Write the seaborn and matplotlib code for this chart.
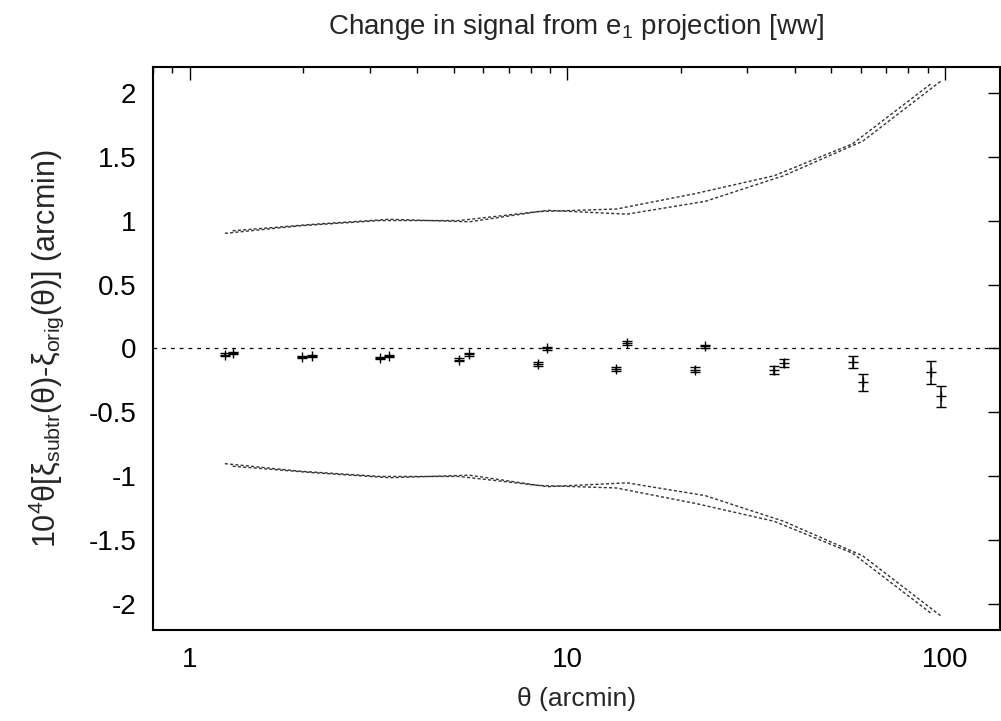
import numpy as np
import pandas as pd
import matplotlib
matplotlib.use("Agg")
import matplotlib.pyplot as plt
import seaborn as sns
from matplotlib.ticker import FixedLocator, NullFormatter, FuncFormatter

# Measured signal change, two estimators at slightly offset angular bins
theta_a = [1.24, 1.98, 3.20, 5.18, 8.37, 13.5, 21.8, 35.3, 57.0, 92.0]
sig_a = [-0.047, -0.068, -0.073, -0.089, -0.120, -0.159, -0.167, -0.167, -0.107, -0.185]
err_a = [0.010, 0.010, 0.010, 0.012, 0.014, 0.018, 0.020, 0.033, 0.046, 0.091]

theta_b = [1.30, 2.11, 3.38, 5.51, 8.86, 14.4, 23.2, 37.4, 60.6, 97.6]
sig_b = [-0.037, -0.055, -0.055, -0.045, 0.000, 0.045, 0.016, -0.112, -0.264, -0.373]
err_b = [0.008, 0.008, 0.008, 0.010, 0.012, 0.014, 0.015, 0.030, 0.065, 0.081]

# Statistical envelope (+/-) for each estimator
env_a = [0.90, 0.96, 1.00, 1.00, 1.07, 1.09, 1.21, 1.35, 1.60, 2.07]
env_b = [0.92, 0.97, 1.01, 0.99, 1.08, 1.05, 1.15, 1.35, 1.62, 2.09]

y_ticks = [-2, -1.5, -1, -0.5, 0, 0.5, 1, 1.5, 2]
x_ticks = [1, 10, 100]

sns.set_theme(style="white")
plt.rcParams["font.family"] = ["Liberation Sans", "DejaVu Sans"]
plt.rcParams["mathtext.fontset"] = "custom"
plt.rcParams["mathtext.rm"] = "Liberation Sans"
plt.rcParams["mathtext.it"] = "Liberation Sans"
plt.rcParams["axes.unicode_minus"] = False

fig = plt.figure(figsize=(10.01, 7.21), dpi=100)
ax = fig.add_axes([153 / 1001, 1 - 630 / 721, (1000 - 153) / 1001, (630 - 67) / 721])

env = pd.concat([
    pd.DataFrame({"theta": theta_a, "val": env_a, "curve": "a+"}),
    pd.DataFrame({"theta": theta_b, "val": env_b, "curve": "b+"}),
    pd.DataFrame({"theta": theta_a, "val": [-v for v in env_a], "curve": "a-"}),
    pd.DataFrame({"theta": theta_b, "val": [-v for v in env_b], "curve": "b-"}),
])
sns.lineplot(data=env, x="theta", y="val", units="curve", estimator=None,
             sort=False, color="#333333", lw=1.0, dashes=False,
             linestyle=(0, (2.2, 1.6)), ax=ax, legend=False)

ax.axhline(0, color="black", lw=0.9, linestyle=(0, (3, 4)))

for th, s, e in [(theta_a, sig_a, err_a), (theta_b, sig_b, err_b)]:
    ax.errorbar(th, s, yerr=e, fmt="+", color="black", ms=7, mew=1.0,
                elinewidth=1.1, capsize=3.5, capthick=1.1)

ax.set_xscale("log")
ax.set_xlim(0.8, 140)
ax.set_ylim(-2.2, 2.2)

ax.xaxis.set_major_locator(FixedLocator(x_ticks))
ax.xaxis.set_minor_locator(FixedLocator(
    [m * 10 ** d for d in (-1, 0, 1, 2) for m in range(2, 10)]))
ax.xaxis.set_minor_formatter(NullFormatter())
ax.xaxis.set_major_formatter(FuncFormatter(lambda v, p: f"{v:g}"))
ax.yaxis.set_major_locator(FixedLocator(y_ticks))
ax.yaxis.set_major_formatter(FuncFormatter(lambda v, p: f"{v:g}".replace("\u2212", "-")))

ax.tick_params(which="both", direction="in", top=True, right=True,
               labelsize=20, colors="black")
ax.tick_params(axis="y", pad=12)
ax.tick_params(axis="x", pad=12)
ax.tick_params(which="major", length=9, width=1)
ax.tick_params(which="minor", length=4.5, width=1)
for sp in ax.spines.values():
    sp.set_linewidth(1.5)
    sp.set_color("black")

ax.set_xlabel(r"θ (arcmin)", fontsize=19, labelpad=10)
ax.set_ylabel(r"10$^4$θ[ξ$_{\mathregular{subtr}}$(θ)-ξ$_{\mathregular{orig}}$(θ)] (arcmin)",
              fontsize=22, labelpad=16)
ax.set_title(r"Change in signal from e$_1$ projection [ww]", fontsize=20, pad=24)

fig.savefig("out.png", dpi=100, facecolor="white")
